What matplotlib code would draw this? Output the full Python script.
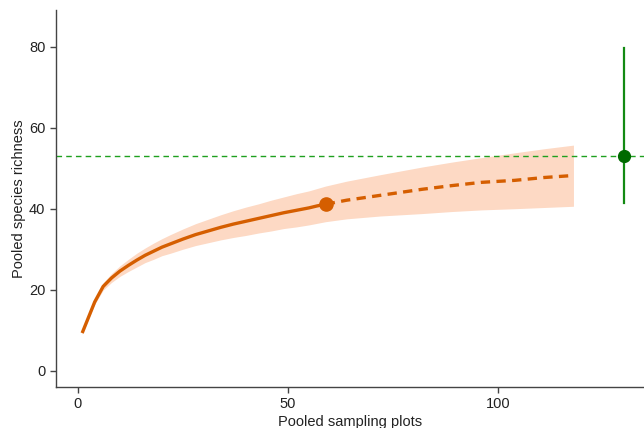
import matplotlib.pyplot as plt
import numpy as np

plt.rcParams['font.family'] = ['Liberation Sans', 'DejaVu Sans']

# rarefaction (observed) part
m_obs = [1, 4, 6, 8, 10, 12, 14, 16, 18, 20, 22, 25, 28, 31, 34, 37, 40,
         43, 46, 49, 52, 55, 57, 59]
s_obs = [9.3, 17.0, 20.8, 22.9, 24.6, 26.0, 27.3, 28.5, 29.5, 30.5, 31.3,
         32.5, 33.6, 34.5, 35.4, 36.2, 36.9, 37.6, 38.3, 39.0, 39.6, 40.2,
         40.7, 41.1]
lo_obs = [9.0, 16.4, 19.9, 21.8, 23.3, 24.5, 25.6, 26.7, 27.5, 28.4, 29.0,
          30.0, 30.9, 31.6, 32.3, 32.9, 33.4, 34.0, 34.5, 35.1, 35.5, 36.0,
          36.4, 36.8]
hi_obs = [9.6, 17.6, 21.7, 24.0, 25.9, 27.5, 29.0, 30.3, 31.5, 32.6, 33.6,
          35.0, 36.3, 37.4, 38.5, 39.5, 40.4, 41.2, 42.1, 42.9, 43.7, 44.4,
          45.0, 45.6]

# extrapolation part
m_ext = [59, 64, 72, 82, 89, 96, 104, 111, 118]
s_ext = [41.1, 42.1, 43.3, 44.8, 45.7, 46.5, 47.0, 47.7, 48.2]
lo_ext = [36.8, 37.5, 38.2, 38.8, 39.3, 39.7, 40.0, 40.3, 40.6]
hi_ext = [45.6, 46.8, 48.4, 50.3, 51.5, 52.6, 53.8, 54.8, 55.7]

# asymptotic estimate
est_x = 130
est_y = 53.0
est_lo = 41.3
est_hi = 79.7

orange = '#D55E00'
ribbon = '#FDD9C4'

fig = plt.figure(figsize=(6.44, 4.28), dpi=100)
ax = fig.add_axes([0.0865, 0.096, 0.9135, 0.881])

ax.fill_between(m_obs + m_ext[1:], lo_obs + lo_ext[1:], hi_obs + hi_ext[1:],
                color=ribbon, lw=0, zorder=1)
ax.axhline(est_y, color='#1FA01F', lw=1, ls=(0, (4, 3)), zorder=2)
ax.plot(m_obs, s_obs, color=orange, lw=2.4, solid_capstyle='butt', zorder=3)
ax.plot(m_ext, s_ext, color=orange, lw=2.4, ls=(0, (2.8, 1.9)), zorder=3)
ax.plot(m_obs[-1], s_obs[-1], 'o', color=orange, ms=9.5, zorder=4)

ax.plot([est_x, est_x], [est_lo, est_hi], color='#138A13', lw=1.6, zorder=3)
ax.plot(est_x, est_y, 'o', color='#006A00', ms=8.5, zorder=4)

ax.set_xlim(-5.3, 134.8)
ax.set_ylim(-4.0, 89.1)
ax.set_xticks([0, 50, 100])
ax.set_yticks([0, 20, 40, 60, 80])

for s in ['top', 'right']:
    ax.spines[s].set_visible(False)
for s in ['left', 'bottom']:
    ax.spines[s].set_color('#444444')
    ax.spines[s].set_linewidth(1.0)
ax.tick_params(colors='#444444', labelcolor='#222222', labelsize=10.5,
               length=4, width=1.0)
ax.set_xlabel('Pooled sampling plots', fontsize=10.5, color='#222222', labelpad=3)
ax.set_ylabel('Pooled species richness', fontsize=10.5, color='#222222', labelpad=2)

fig.savefig('out.png', dpi=100)
